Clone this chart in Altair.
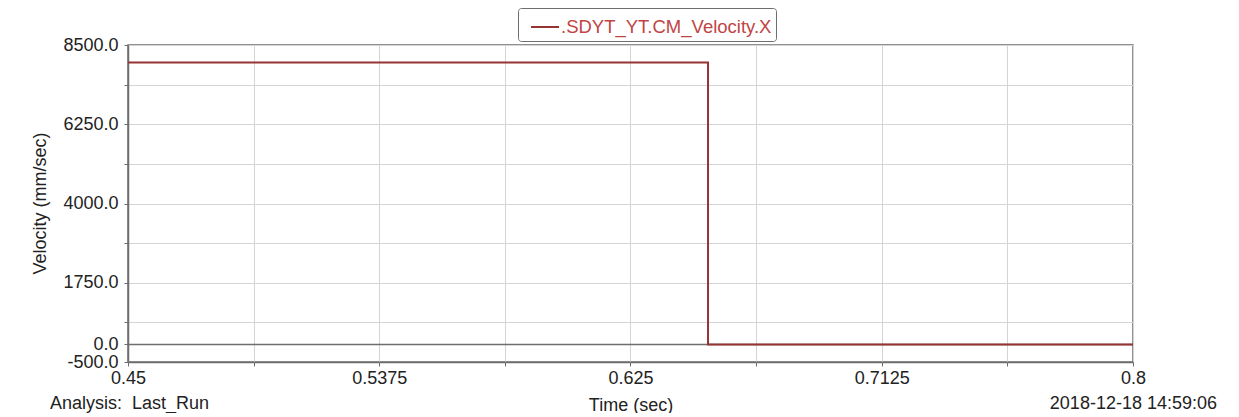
import altair as alt
import pandas as pd

# ---- data ----
time_s = [0.45, 0.652, 0.652, 0.8]
velocity = [8000.0, 8000.0, 0.0, 0.0]
series_name = ".SDYT_YT.CM_Velocity.X"

x_tick_values = [0.45, 0.49375, 0.5375, 0.58125, 0.625, 0.66875, 0.7125, 0.75625, 0.8]
x_tick_labels = ["0.45", "", "0.5375", "", "0.625", "", "0.7125", "", "0.8"]
y_tick_values = [-500, 0, 625, 1750, 2875, 4000, 5125, 6250, 7375, 8500]
y_labelled = [-500, 0, 1750, 4000, 6250, 8500]

analysis_text = "Analysis: \u00a0Last_Run"
date_text = "2018-12-18 14:59:06"
x_title = "Time (sec)"
y_title = "Velocity (mm/sec)"

FONT = "Liberation Sans"
RED = "#963333"
LEGEND_RED = "#c04444"
GRID = "#d4d4d4"
DARK = "#6e6e6e"
TXT = "#222222"
FS = 18

df = pd.DataFrame({"t": time_s, "v": velocity, "i": list(range(len(time_s))), "s": [series_name] * len(time_s)})

x_label_expr = " : ".join(
    [f"datum.value == {v} ? '{l}'" for v, l in zip(x_tick_values, x_tick_labels)] + ["''"]
)
y_label_expr = (
    "indexof([" + ",".join(str(v) for v in y_labelled) + "], datum.value) >= 0 ? "
    "(datum.value < 0 ? '-' : '') + format(abs(datum.value), '.1f') : ''"
)

x_scale = alt.Scale(domain=[0.45, 0.8], nice=False, zero=False)
y_scale = alt.Scale(domain=[-500, 8500], nice=False, zero=False)

x_axis = alt.Axis(
    values=x_tick_values, tickCount=50, labelExpr=x_label_expr, title=x_title,
    grid=True, gridColor=GRID, gridWidth=1,
    domainColor=DARK, domainWidth=1.5, tickColor=DARK, tickSize=4,
    labelFont=FONT, labelFontSize=FS, labelColor=TXT, labelPadding=3,
    labelOverlap=False, labelFlush=False,
    titleFont=FONT, titleFontSize=FS, titleFontWeight="normal", titleColor=TXT,
    titleY=43, titleBaseline="middle",
)
y_axis = alt.Axis(
    values=y_tick_values, tickCount=50, labelExpr=y_label_expr, title=y_title,
    grid=True, gridColor=GRID, gridWidth=1,
    domainColor=DARK, domainWidth=1.5, tickColor=DARK, tickSize=4,
    labelFont=FONT, labelFontSize=FS, labelColor=TXT, labelPadding=6,
    labelOverlap=False, labelFlush=False, labelBaseline="middle",
    titleFont=FONT, titleFontSize=FS, titleFontWeight="normal", titleColor=TXT,
    titleX=-88, titleY=158, titleBaseline="middle", titleAngle=270,
)

line = alt.Chart(df).mark_line(strokeWidth=2, interpolate="linear").encode(
    x=alt.X("t:Q", scale=x_scale, axis=x_axis),
    y=alt.Y("v:Q", scale=y_scale, axis=y_axis),
    order="i:Q",
    color=alt.Color(
        "s:N",
        scale=alt.Scale(domain=[series_name], range=[RED]),
        legend=alt.Legend(
            title=None, orient="none", legendX=390, legendY=-37,
            symbolType="stroke", symbolSize=784, symbolStrokeWidth=2,
            symbolOffset=8,
            labelFont=FONT, labelFontSize=18.5, labelColor=LEGEND_RED, labelOffset=1,
            labelLimit=500,
            strokeColor=DARK, fillColor="white", cornerRadius=3, padding=4,
        ),
    ),
)

zero_rule = alt.Chart(pd.DataFrame({"y": [0]})).mark_rule(color=DARK, strokeWidth=1.5).encode(
    y=alt.Y("y:Q", scale=y_scale, axis=y_axis)
)

analysis = alt.Chart(pd.DataFrame({"txt": [analysis_text]})).mark_text(
    align="left", baseline="middle", font=FONT, fontSize=FS, color=TXT
).encode(x=alt.value(-78), y=alt.value(359), text="txt:N")

date = alt.Chart(pd.DataFrame({"txt": [date_text]})).mark_text(
    align="right", baseline="middle", font=FONT, fontSize=FS, color=TXT
).encode(x=alt.value(1089), y=alt.value(359), text="txt:N")

chart = (
    alt.layer(zero_rule, line, analysis, date)
    .properties(
        width=1005, height=317,
        autosize=alt.AutoSizeParams(type="none"),
        padding={"left": 120, "top": 37, "right": 98, "bottom": 51},
        background="white",
    )
    .configure_view(stroke=DARK, strokeWidth=1.5)
)

chart.save("out.html", embed_options={"renderer": "svg", "actions": False})
